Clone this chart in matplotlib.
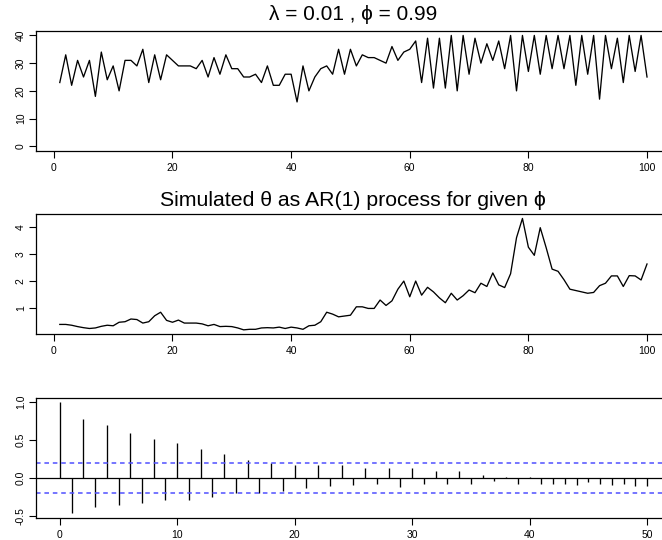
import numpy as np
import matplotlib
matplotlib.use("Agg")
import matplotlib.pyplot as plt

plt.rcParams['font.family'] = ['Liberation Sans', 'DejaVu Sans']
plt.rcParams['axes.unicode_minus'] = False

# ---- data ----
t = list(range(1, 101))
counts = [23, 33, 22, 31, 25, 31, 18, 34, 24, 29, 20, 31, 31, 29, 35, 23, 33, 24, 33, 31,
          29, 29, 29, 28, 31, 25, 32, 26, 33, 28, 28, 25, 25, 26, 23, 29, 22, 22, 26, 26,
          16, 29, 20, 25, 28, 29, 26, 35, 26, 35, 29, 33, 32, 32, 31, 30, 36, 31, 34, 35,
          38, 23, 39, 21, 39, 21, 40, 20, 40, 26, 39, 30, 37, 31, 38, 28, 40, 20, 40, 27,
          40, 26, 40, 28, 40, 28, 40, 22, 40, 26, 40, 17, 40, 28, 39, 23, 40, 27, 40, 25]
theta = [0.40, 0.40, 0.37, 0.32, 0.28, 0.25, 0.27, 0.33, 0.37, 0.35, 0.48, 0.50, 0.60, 0.58,
         0.45, 0.50, 0.72, 0.85, 0.55, 0.48, 0.56, 0.45, 0.45, 0.45, 0.42, 0.35, 0.40, 0.32,
         0.33, 0.32, 0.27, 0.20, 0.22, 0.22, 0.27, 0.28, 0.27, 0.30, 0.25, 0.30, 0.27, 0.22,
         0.35, 0.37, 0.50, 0.85, 0.78,
         0.68, 0.71, 0.74, 1.05, 1.05, 0.99, 0.99, 1.30, 1.10, 1.27, 1.70, 2.00, 1.42, 2.00,
         1.48, 1.77, 1.60, 1.38, 1.20, 1.55, 1.30, 1.46, 1.67, 1.57, 1.92, 1.80, 2.30, 1.86,
         1.76, 2.27, 3.60, 4.31, 3.25, 2.95, 3.97, 3.23, 2.44, 2.36, 2.05, 1.70, 1.65, 1.60,
         1.55, 1.58, 1.83, 1.92, 2.19, 2.19, 1.80, 2.20, 2.19, 2.04, 2.63]
lags = list(range(0, 51))
acf = [1.0, -0.46, 0.78, -0.38, 0.70, -0.35, 0.60, -0.33, 0.51, -0.28,
       0.46, -0.28, 0.39, -0.25, 0.32, -0.20, 0.24, -0.20, 0.20, -0.17,
       0.17, -0.13, 0.17, -0.10, 0.17, -0.09, 0.14, -0.08, 0.13, -0.11,
       0.14, -0.08, 0.09, -0.07, 0.09, -0.07, 0.04, -0.04, 0.02, -0.08,
       0.01, -0.07, -0.07, -0.07, -0.09, -0.05, -0.08, -0.09, -0.08, -0.10, -0.10]
n_obs = 100
title1 = "λ = 0.01 , ϕ = 0.99"
title2 = "Simulated θ as AR(1) process for given ϕ"
xticks_ts = [0, 20, 40, 60, 80, 100]
yticks1 = [0, 10, 20, 30, 40]
yticks2 = [1, 2, 3, 4]
xticks_acf = [0, 10, 20, 30, 40, 50]
yticks_acf = [-0.5, 0.0, 0.5, 1.0]

W, H = 662, 540
fig = plt.figure(figsize=(W / 100, H / 100), dpi=100)

def axes_px(left, top, right, bottom):
    return fig.add_axes([left / W, 1 - bottom / H, (right - left) / W, (bottom - top) / H])

def style(ax):
    for s in ['left', 'bottom', 'top']:
        ax.spines[s].set_linewidth(0.9)
        ax.spines[s].set_color('black')
    ax.spines['right'].set_visible(False)
    ax.tick_params(direction='out', length=5, width=0.8, labelsize=7.5, colors='black', pad=3.5)
    ax.tick_params(axis='y', labelrotation=90, pad=2.5)
    for lab in ax.get_yticklabels():
        lab.set_va('center')

def rlim(lo, hi):
    r = hi - lo
    return lo - 0.04 * r, hi + 0.04 * r

L, R = 36.3, 670.5

# panel 1
ax1 = axes_px(L, 31, R, 150.7)
ax1.plot(t, counts, color='black', lw=0.95)
ax1.set_xlim(*rlim(1, 100))
ax1.set_ylim(*rlim(0, 40))
ax1.set_xticks(xticks_ts)
ax1.set_yticks(yticks1)
style(ax1)
fig.text((L + R) / 2 / W, 1 - 15 / H, title1, ha='center', va='center', fontsize=15,
         family=['Liberation Sans', 'DejaVu Sans'])

# panel 2
ax2 = axes_px(L, 214, R, 334.3)
ax2.plot(t, theta, color='black', lw=0.95)
ax2.set_xlim(*rlim(1, 100))
ax2.set_ylim(*rlim(min(theta), max(theta)))
ax2.set_xticks(xticks_ts)
ax2.set_yticks(yticks2)
style(ax2)
fig.text((L + R) / 2 / W, 1 - 200 / H, title2, ha='center', va='center', fontsize=15.3,
         family=['Liberation Sans', 'DejaVu Sans'])

# panel 3 (ACF)
ax3 = axes_px(L, 397.7, R, 517.7)
ax3.vlines(lags, 0, acf, color='black', lw=0.95)
ax3.axhline(0, color='black', lw=0.9)
ci = 1.96 / np.sqrt(n_obs)
ax3.axhline(ci, color='#5050ff', lw=1.1, ls=(0, (3, 2.5)))
ax3.axhline(-ci, color='#5050ff', lw=1.1, ls=(0, (3, 2.5)))
ax3.set_xlim(*rlim(0, 50))
ax3.set_ylim(*rlim(min(acf), 1.0))
ax3.set_xticks(xticks_acf)
ax3.set_yticks(yticks_acf)
ax3.set_yticklabels(['-0.5', '0.0', '0.5', '1.0'])
style(ax3)

fig.savefig('out.png', dpi=100)
